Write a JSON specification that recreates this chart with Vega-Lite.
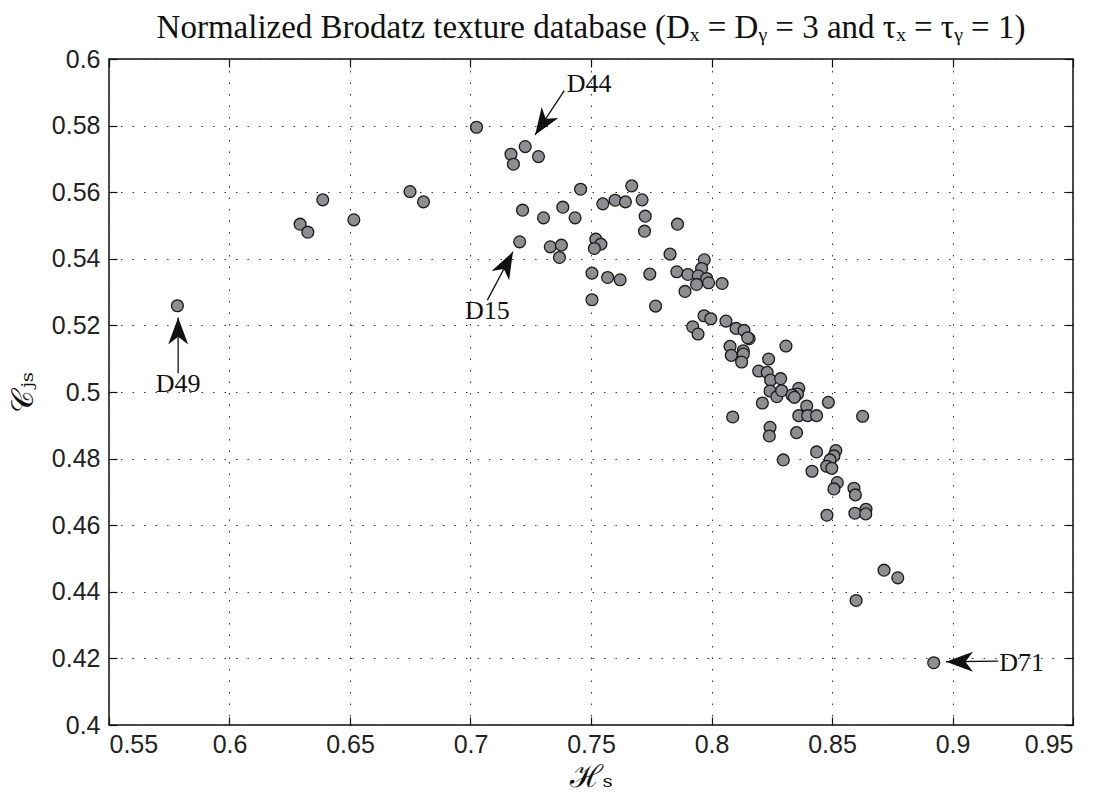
{
  "$schema": "https://vega.github.io/schema/vega-lite/v6.json",
  "width": 964,
  "height": 666,
  "autosize": {"type": "none"},
  "padding": {"left": 109, "top": 59, "right": 31, "bottom": 71},
  "background": "white",
  "title": {
    "text": "Normalized Brodatz texture database (Dₓ = Dᵧ = 3 and τₓ = τᵧ = 1)",
    "font": "Liberation Serif",
    "fontSize": 33,
    "fontWeight": "normal",
    "color": "#111",
    "offset": 2
  },
  "config": {
    "view": {"stroke": "#111", "strokeWidth": 1.5},
    "axis": {
      "domain": false,
      "tickSize": -8,
      "tickColor": "#111",
      "tickWidth": 1.2,
      "labelFont": "Liberation Sans",
      "labelFontSize": 25,
      "labelColor": "#222",
      "gridDash": [1.5, 10],
      "gridColor": "#333",
      "gridWidth": 1,
      "gridOpacity": 1,
      "titleFont": "DejaVu Serif",
      "titleFontWeight": "normal",
      "titleColor": "#111"
    }
  },
  "datasets": {
    "pts": [
      {"h": 0.5784, "c": 0.5259}, {"h": 0.6293, "c": 0.5504}, {"h": 0.6325, "c": 0.5480}, {"h": 0.6387, "c": 0.5577},
      {"h": 0.6516, "c": 0.5517}, {"h": 0.6749, "c": 0.5602}, {"h": 0.6805, "c": 0.5571}, {"h": 0.7025, "c": 0.5795},
      {"h": 0.7227, "c": 0.5737}, {"h": 0.7168, "c": 0.5714}, {"h": 0.7178, "c": 0.5684}, {"h": 0.7282, "c": 0.5707},
      {"h": 0.7457, "c": 0.5609}, {"h": 0.7216, "c": 0.5546}, {"h": 0.7303, "c": 0.5523}, {"h": 0.7383, "c": 0.5555},
      {"h": 0.7434, "c": 0.5523}, {"h": 0.7204, "c": 0.5451}, {"h": 0.7331, "c": 0.5436}, {"h": 0.7377, "c": 0.5441},
      {"h": 0.7369, "c": 0.5404}, {"h": 0.7549, "c": 0.5565}, {"h": 0.7600, "c": 0.5576}, {"h": 0.7643, "c": 0.5571},
      {"h": 0.7669, "c": 0.5619}, {"h": 0.7712, "c": 0.5577}, {"h": 0.7725, "c": 0.5528}, {"h": 0.7722, "c": 0.5483},
      {"h": 0.7859, "c": 0.5504}, {"h": 0.7520, "c": 0.5459}, {"h": 0.7541, "c": 0.5444}, {"h": 0.7514, "c": 0.5431},
      {"h": 0.7504, "c": 0.5357}, {"h": 0.7569, "c": 0.5344}, {"h": 0.7621, "c": 0.5337}, {"h": 0.7504, "c": 0.5277},
      {"h": 0.7744, "c": 0.5354}, {"h": 0.7768, "c": 0.5258}, {"h": 0.7828, "c": 0.5414}, {"h": 0.7856, "c": 0.5361},
      {"h": 0.7902, "c": 0.5353}, {"h": 0.7890, "c": 0.5302}, {"h": 0.7922, "c": 0.5196}, {"h": 0.7970, "c": 0.5397},
      {"h": 0.7959, "c": 0.5371}, {"h": 0.7945, "c": 0.5349}, {"h": 0.7980, "c": 0.5341}, {"h": 0.7938, "c": 0.5323},
      {"h": 0.7988, "c": 0.5328}, {"h": 0.8044, "c": 0.5326}, {"h": 0.7969, "c": 0.5229}, {"h": 0.7997, "c": 0.5220},
      {"h": 0.7944, "c": 0.5174}, {"h": 0.8060, "c": 0.5213}, {"h": 0.8102, "c": 0.5191}, {"h": 0.8135, "c": 0.5185},
      {"h": 0.8156, "c": 0.5160}, {"h": 0.8150, "c": 0.5163}, {"h": 0.8077, "c": 0.5137}, {"h": 0.8082, "c": 0.5110},
      {"h": 0.8132, "c": 0.5124}, {"h": 0.8132, "c": 0.5114}, {"h": 0.8125, "c": 0.5090}, {"h": 0.8309, "c": 0.5138},
      {"h": 0.8237, "c": 0.5099}, {"h": 0.8196, "c": 0.5063}, {"h": 0.8231, "c": 0.5059}, {"h": 0.8245, "c": 0.5036},
      {"h": 0.8287, "c": 0.5040}, {"h": 0.8243, "c": 0.5003}, {"h": 0.8271, "c": 0.4986}, {"h": 0.8291, "c": 0.5004},
      {"h": 0.8362, "c": 0.5011}, {"h": 0.8357, "c": 0.4994}, {"h": 0.8334, "c": 0.4991}, {"h": 0.8344, "c": 0.4984},
      {"h": 0.8485, "c": 0.4969}, {"h": 0.8211, "c": 0.4967}, {"h": 0.8395, "c": 0.4958}, {"h": 0.8362, "c": 0.4929},
      {"h": 0.8399, "c": 0.4929}, {"h": 0.8436, "c": 0.4929}, {"h": 0.8627, "c": 0.4927}, {"h": 0.8088, "c": 0.4925},
      {"h": 0.8243, "c": 0.4894}, {"h": 0.8240, "c": 0.4868}, {"h": 0.8353, "c": 0.4878}, {"h": 0.8436, "c": 0.4820},
      {"h": 0.8516, "c": 0.4824}, {"h": 0.8508, "c": 0.4808}, {"h": 0.8492, "c": 0.4796}, {"h": 0.8478, "c": 0.4777},
      {"h": 0.8499, "c": 0.4771}, {"h": 0.8298, "c": 0.4796}, {"h": 0.8417, "c": 0.4762}, {"h": 0.8522, "c": 0.4728},
      {"h": 0.8508, "c": 0.4709}, {"h": 0.8591, "c": 0.4711}, {"h": 0.8597, "c": 0.4691}, {"h": 0.8479, "c": 0.4630},
      {"h": 0.8595, "c": 0.4636}, {"h": 0.8641, "c": 0.4648}, {"h": 0.8640, "c": 0.4634}, {"h": 0.8716, "c": 0.4465},
      {"h": 0.8773, "c": 0.4442}, {"h": 0.8600, "c": 0.4374}, {"h": 0.8922, "c": 0.4187}
    ],
    "arrows": [
      {"name": "D49", "tx": 0.5787, "ty": 0.5056, "hx": 0.5787, "hy": 0.5224, "ang": 0, "lx": 0.5787, "ly": 0.5024},
      {"name": "D15", "tx": 0.7070, "ty": 0.5276, "hx": 0.7176, "hy": 0.5421, "ang": 27.8, "lx": 0.7070, "ly": 0.5242},
      {"name": "D44", "tx": 0.7389, "ty": 0.5905, "hx": 0.7268, "hy": 0.5772, "ang": 213.5, "lx": 0.7492, "ly": 0.5926},
      {"name": "D71", "tx": 0.9190, "ty": 0.4192, "hx": 0.8973, "hy": 0.4190, "ang": 270, "lx": 0.9287, "ly": 0.4187}
    ]
  },
  "layer": [
    {
      "data": {"name": "pts"},
      "mark": {"type": "point", "shape": "circle", "filled": true, "size": 140, "fill": "#8d8e92", "stroke": "#1a1a1a", "strokeWidth": 1.3, "opacity": 1},
      "encoding": {
        "x": {
          "field": "h", "type": "quantitative",
          "scale": {"domain": [0.55, 0.95], "nice": false, "zero": false},
          "axis": {
            "orient": "bottom",
            "values": [0.55, 0.6, 0.65, 0.7, 0.75, 0.8, 0.85, 0.9, 0.95],
            "format": ".2~f",
            "labelPadding": 15,
            "grid": true,
            "title": "ℋₛ",
            "titleFontSize": 31,
            "titlePadding": 5
          }
        },
        "y": {
          "field": "c", "type": "quantitative",
          "scale": {"domain": [0.4, 0.6], "nice": false, "zero": false},
          "axis": {
            "orient": "left",
            "values": [0.4, 0.42, 0.44, 0.46, 0.48, 0.5, 0.52, 0.54, 0.56, 0.58, 0.6],
            "format": ".2~f",
            "labelPadding": 17,
            "grid": true,
            "title": "𝒞ⱼₛ",
            "titleFontSize": 31,
            "titlePadding": 12
          }
        }
      }
    },
    {
      "data": {"name": "arrows"},
      "mark": {"type": "rule", "color": "#111", "strokeWidth": 1.3},
      "encoding": {
        "x": {
          "field": "tx", "type": "quantitative",
          "scale": {"domain": [0.55, 0.95], "nice": false, "zero": false},
          "axis": {"orient": "top", "values": [0.55, 0.6, 0.65, 0.7, 0.75, 0.8, 0.85, 0.9, 0.95], "labels": false, "grid": false, "title": null}
        },
        "y": {
          "field": "ty", "type": "quantitative",
          "scale": {"domain": [0.4, 0.6], "nice": false, "zero": false},
          "axis": {"orient": "right", "values": [0.4, 0.42, 0.44, 0.46, 0.48, 0.5, 0.52, 0.54, 0.56, 0.58, 0.6], "labels": false, "grid": false, "title": null}
        },
        "x2": {"field": "hx"},
        "y2": {"field": "hy"}
      }
    },
    {
      "data": {"name": "arrows"},
      "mark": {"type": "point", "shape": "M0,0L0.37,1L0,0.72L-0.37,1Z", "filled": true, "size": 2916, "color": "#111", "opacity": 1, "strokeWidth": 0},
      "encoding": {
        "x": {"field": "hx", "type": "quantitative", "scale": {"domain": [0.55, 0.95], "nice": false, "zero": false}, "axis": null},
        "y": {"field": "hy", "type": "quantitative", "scale": {"domain": [0.4, 0.6], "nice": false, "zero": false}, "axis": null},
        "angle": {"field": "ang", "type": "quantitative", "scale": null}
      }
    },
    {
      "data": {"name": "arrows"},
      "mark": {"type": "text", "font": "Liberation Serif", "fontSize": 26, "color": "#111", "align": "center", "baseline": "middle"},
      "encoding": {
        "x": {"field": "lx", "type": "quantitative", "scale": {"domain": [0.55, 0.95], "nice": false, "zero": false}, "axis": null},
        "y": {"field": "ly", "type": "quantitative", "scale": {"domain": [0.4, 0.6], "nice": false, "zero": false}, "axis": null},
        "text": {"field": "name"}
      }
    }
  ],
  "resolve": {"axis": {"x": "independent", "y": "independent"}}
}
